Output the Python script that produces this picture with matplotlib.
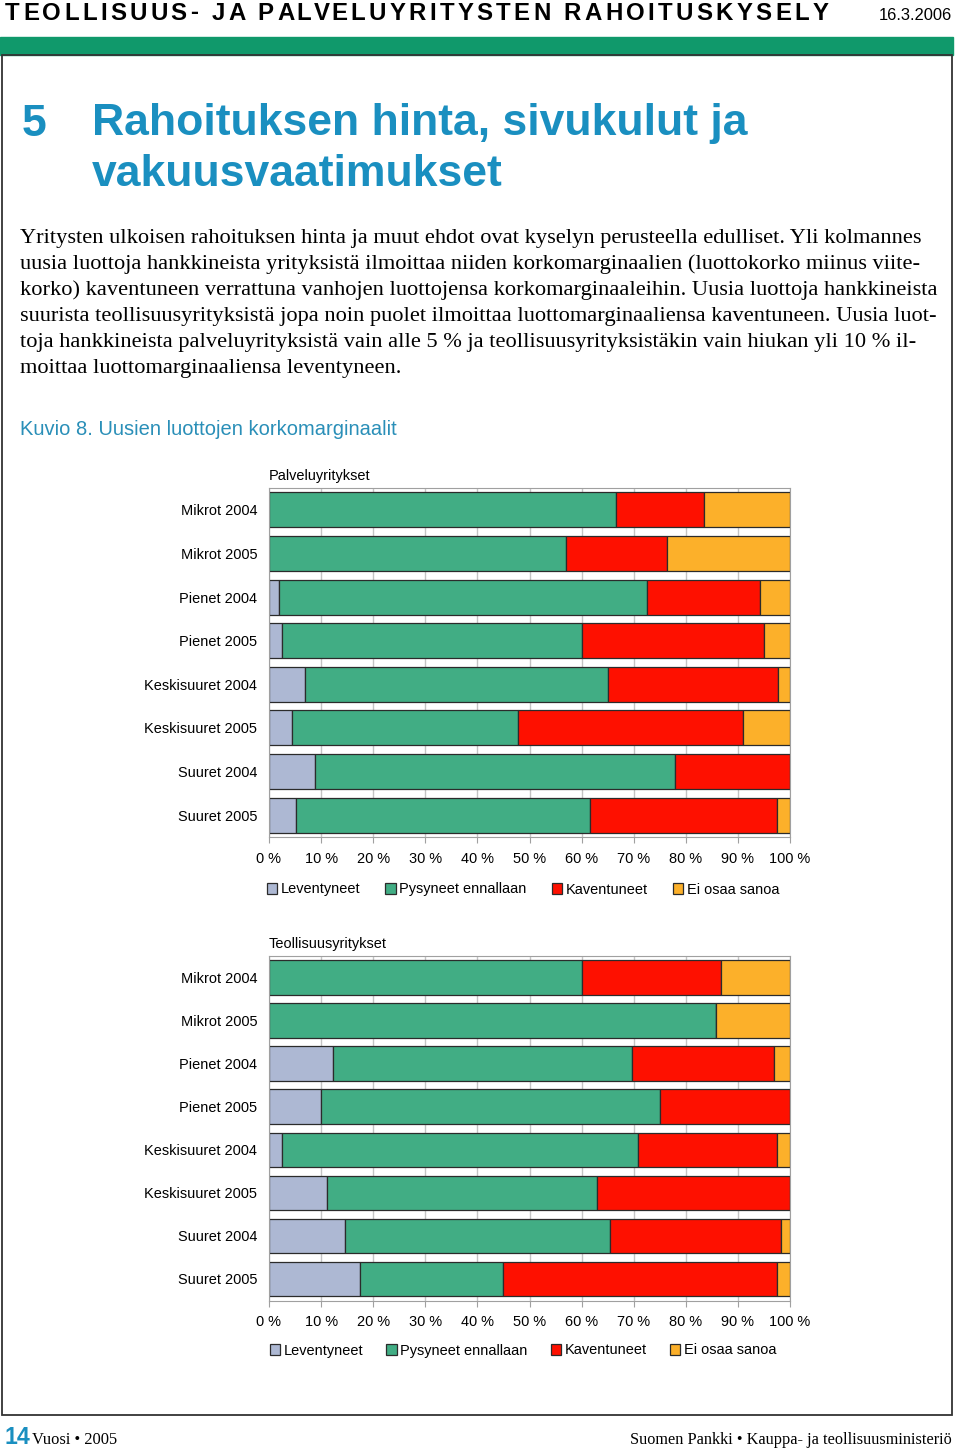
import matplotlib
matplotlib.use("Agg")
import matplotlib.pyplot as plt
from matplotlib.patches import Rectangle
import numpy as np

# --- data ---------------------------------------------------------------
rows = ["Mikrot 2004", "Mikrot 2005", "Pienet 2004", "Pienet 2005",
        "Keskisuuret 2004", "Keskisuuret 2005", "Suuret 2004", "Suuret 2005"]
series = ["Leventyneet", "Pysyneet ennallaan", "Kaventuneet", "Ei osaa sanoa"]
colors = ["#adb8d3", "#41ad84", "#fe1000", "#fcb02a"]

# Palveluyritykset (% of answers)
pal_lev = [0.0, 0.0, 1.9, 2.5, 7.0, 4.5, 8.9, 5.2]
pal_pys = [66.6, 57.1, 70.7, 57.5, 58.1, 43.3, 69.0, 56.4]
pal_kav = [16.8, 19.2, 21.6, 35.0, 32.6, 43.2, 22.1, 35.9]
pal_eos = [16.6, 23.7, 5.8, 5.0, 2.3, 9.0, 0.0, 2.5]

# Teollisuusyritykset (% of answers)
teo_lev = [0.0, 0.0, 12.2, 10.0, 2.4, 11.2, 14.6, 17.5]
teo_pys = [60.0, 85.8, 57.5, 65.0, 68.4, 51.8, 50.9, 27.5]
teo_kav = [26.8, 0.0, 27.3, 25.0, 26.8, 37.0, 32.7, 52.6]
teo_eos = [13.2, 14.2, 3.0, 0.0, 2.4, 0.0, 1.8, 2.4]

xticks = [0, 10, 20, 30, 40, 50, 60, 70, 80, 90, 100]

header = "TEOLLISUUS- JA PALVELUYRITYSTEN RAHOITUSKYSELY"
body = [
    "Yritysten ulkoisen rahoituksen hinta ja muut ehdot ovat kyselyn perusteella edulliset. Yli kolmannes",
    "uusia luottoja hankkineista yrityksistä ilmoittaa niiden korkomarginaalien (luottokorko miinus viite-",
    "korko) kaventuneen verrattuna vanhojen luottojensa korkomarginaaleihin. Uusia luottoja hankkineista",
    "suurista teollisuusyrityksistä jopa noin puolet ilmoittaa luottomarginaaliensa kaventuneen. Uusia luot-",
    "toja hankkineista palveluyrityksistä vain alle 5 % ja teollisuusyrityksistäkin vain hiukan yli 10 % il-",
    "moittaa luottomarginaaliensa leventyneen.",
]

sans = "Liberation Sans"
serif = "Liberation Serif"
blue = "#1a8fc0"

W, H = 960, 1450
fig = plt.figure(figsize=(W / 100, H / 100), dpi=100)
renderer = fig.canvas.get_renderer()


def fx(x):
    return x / W


def fy(y):
    return 1 - y / H


def px(p):
    # pixel height -> points
    return p * 0.72


def text_width(s, **kw):
    t = fig.text(0, 0, s, **kw)
    w = t.get_window_extent(renderer).width
    t.remove()
    return w


# header with letter spacing: each letter placed after the advance of its prefix
hkw = dict(family=sans, weight="bold", fontsize=px(24))
bar_w = text_width("|", **hkw)
track = 3.3
for i, ch in enumerate(header):
    if ch == " ":
        continue
    adv = text_width(header[:i] + "|", **hkw) - bar_w if i else 0
    fig.text(fx(5 + adv + track * i), fy(13), ch, va="center", ha="left", **hkw)

fig.text(fx(952), fy(15), "16.3.2006", family=sans, fontsize=px(16.5),
         va="center", ha="right")
fig.patches.append(Rectangle((0, fy(55)), fx(953), (55 - 37) / H,
                             transform=fig.transFigure, color="#10996b", zorder=0))
fig.patches.append(Rectangle((fx(2), fy(1415)), fx(950), (1415 - 55) / H,
                             transform=fig.transFigure, fill=False,
                             edgecolor="#333333", lw=1.3, zorder=0))

# title
tkw = dict(family=sans, weight="bold", color=blue, fontsize=px(44.5), va="center")
fig.text(fx(22), fy(124), "5", **tkw)
fig.text(fx(92), fy(124), "Rahoituksen hinta, sivukulut ja", **tkw)
fig.text(fx(92), fy(175), "vakuusvaatimukset", **tkw)

for i, line in enumerate(body):
    fig.text(fx(20), fy(238 + 26 * i), line, family=serif, fontsize=px(22.4),
             va="center", ha="left")

fig.text(fx(20), fy(430), "Kuvio 8. Uusien luottojen korkomarginaalit",
         family=sans, color="#2a8fb8", fontsize=px(20.2), va="center")


def draw_panel(rect, title, data, legend_y, colspace):
    ax = fig.add_axes(rect)
    y = np.arange(len(rows))
    left = np.zeros(len(rows))
    handles = []
    for vals, name, c in zip(data, series, colors):
        vals = np.array(vals)
        b = ax.barh(y, vals, left=left, height=0.8, color=c,
                    edgecolor="#2b2b2b", linewidth=0.9, label=name)
        handles.append(b)
        left += vals
    ax.set_xlim(0, 100)
    ax.set_ylim(len(rows) - 0.5, -0.5)
    ax.set_yticks(y)
    ax.set_yticklabels(rows, family=sans, fontsize=px(14.5))
    ax.set_xticks(xticks)
    ax.set_xticklabels([f"{v} %" for v in xticks], family=sans, fontsize=px(14.5))
    ax.tick_params(axis="y", length=0, pad=8.5)
    ax.tick_params(axis="x", length=4, color="#a0a0a0", pad=6.5)
    ax.xaxis.grid(True, color="#c4c4c4", lw=1)
    ax.set_axisbelow(True)
    for s in ax.spines.values():
        s.set_color("#a0a0a0")
    ax.text(0.0, 1.015, title, transform=ax.transAxes, family=sans,
            fontsize=px(14.5), va="bottom", ha="left")
    fig.legend(handles=handles, loc="center", bbox_to_anchor=(fx(523), fy(legend_y)),
               ncol=4, frameon=False, prop={"family": sans, "size": px(14.5)},
               handlelength=0.7, handleheight=0.7, handletextpad=0.25,
               columnspacing=colspace)
    return ax


draw_panel([fx(269), fy(837), fx(790) - fx(269), 349 / H], "Palveluyritykset",
           [pal_lev, pal_pys, pal_kav, pal_eos], 889.5, 1.75)
draw_panel([fx(269), fy(1300.5), fx(790) - fx(269), 344.5 / H], "Teollisuusyritykset",
           [teo_lev, teo_pys, teo_kav, teo_eos], 1350.5, 1.6)

# footer
fig.text(fx(4), fy(1437), "14", family=sans, weight="bold", color=blue,
         fontsize=px(23), va="center")
fig.text(fx(32), fy(1440), "Vuosi \u2022 2005", family=serif, fontsize=px(16.5),
         va="center")
fig.text(fx(952), fy(1440), "Suomen Pankki \u2022 Kauppa- ja teollisuusministeriö",
         family=serif, fontsize=px(16.3), va="center", ha="right")

fig.savefig("out.png", dpi=100)
